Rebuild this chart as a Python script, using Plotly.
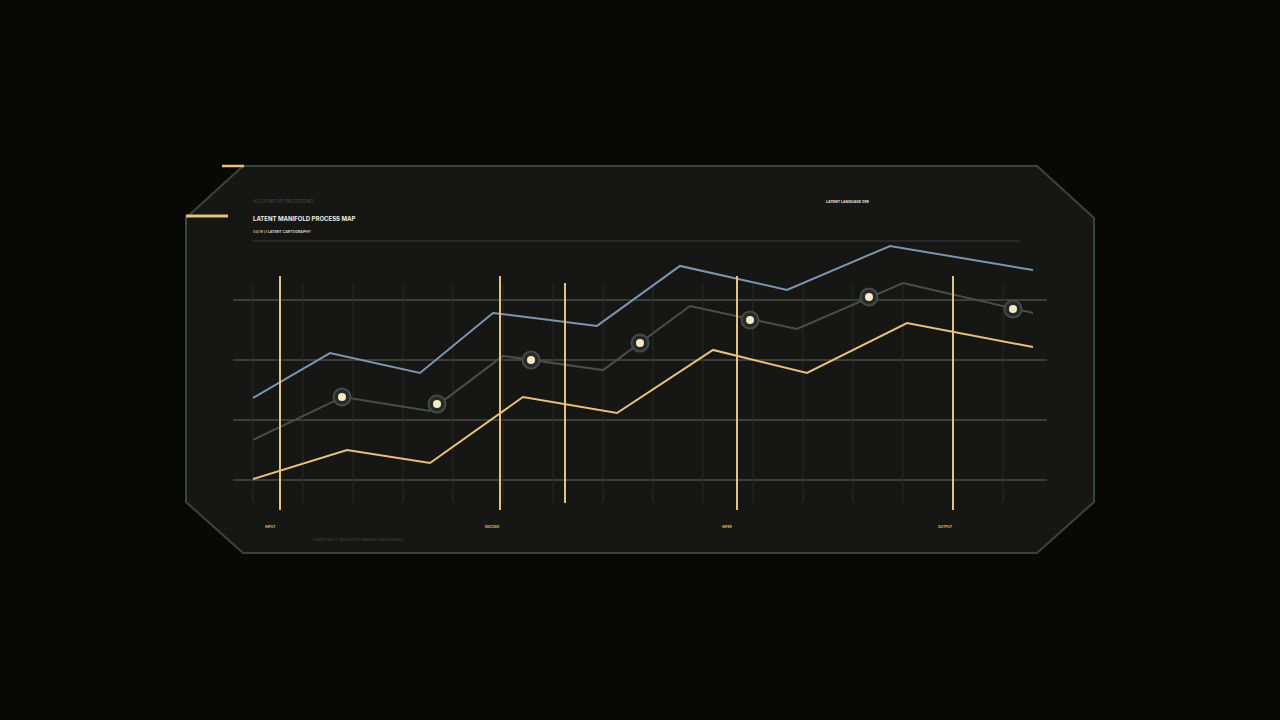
import plotly.graph_objects as go

W, H = 1280, 720

# ---------------- data ----------------
# x in "step" units, y in latent-score units
blue_x = [0, 1.54, 3.34, 4.8, 6.88, 8.54, 10.68, 12.74, 15.6]
blue_y = [34.2, 52.9, 44.6, 69.6, 64.2, 89.2, 79.2, 97.5, 87.5]

gray_x = [0, 1.8, 3.54, 5.0, 7.0, 8.74, 10.88, 13.0, 15.6]
gray_y = [16.7, 34.6, 28.8, 51.7, 45.8, 72.5, 62.9, 82.1, 69.6]

gold_x = [0, 1.88, 3.54, 5.4, 7.28, 9.2, 11.08, 13.08, 15.6]
gold_y = [0.4, 12.5, 7.1, 34.6, 27.9, 54.2, 44.6, 65.4, 55.4]

node_x = [1.78, 3.68, 5.56, 7.74, 9.94, 12.32, 15.2]
node_y = [34.6, 31.7, 50.0, 57.1, 66.7, 76.25, 71.25]

phase_x = [0.54, 4.94, 6.24, 9.68, 14.0]
phase_labels = ["INPUT", "ENCODE", "", "INFER", "OUTPUT"]

grid_y = [0, 25, 50, 75]
grid_x = list(range(0, 16))

# ---------------- helpers ----------------
def px(x):
    return x / W

def py(y):
    return 1 - y / H

BG = "#080906"
PANEL = "#161714"
EDGE = "#39443e"
GOLD = "#e6c27e"
BLUE = "#7d95ad"
GRAYL = "#4a4e4b"
CREAM = "#f8e9c6"

fig = go.Figure()

# vertical thin grid
vx, vy = [], []
for g in grid_x:
    vx += [g, g, None]
    vy += [-9.6, 81.25, None]
fig.add_trace(go.Scatter(x=vx, y=vy, mode="lines",
                         line=dict(color="#282a27", width=1),
                         hoverinfo="skip", showlegend=False))

# series
fig.add_trace(go.Scatter(x=gray_x, y=gray_y, mode="lines",
                         line=dict(color=GRAYL, width=2), showlegend=False))
fig.add_trace(go.Scatter(x=blue_x, y=blue_y, mode="lines",
                         line=dict(color=BLUE, width=2), showlegend=False))
fig.add_trace(go.Scatter(x=gold_x, y=gold_y, mode="lines",
                         line=dict(color=GOLD, width=2), showlegend=False))

# phase lines
for i, xv in enumerate(phase_x):
    if phase_labels[i] == "":
        y0, y1 = -9.6, 82.1
    else:
        y0, y1 = -12.5, 85
    fig.add_trace(go.Scatter(x=[xv, xv], y=[y0, y1], mode="lines",
                             line=dict(color=GOLD, width=2),
                             hoverinfo="skip", showlegend=False))

# nodes
fig.add_trace(go.Scatter(x=node_x, y=node_y, mode="markers",
                         marker=dict(size=17, color="#262b29",
                                     line=dict(color="#444c49", width=2)),
                         showlegend=False))
fig.add_trace(go.Scatter(x=node_x, y=node_y, mode="markers",
                         marker=dict(size=8, color=CREAM), showlegend=False))

# ---------------- panel ----------------
poly = [(243, 166), (1037, 166), (1094, 218), (1094, 502), (1037, 553),
        (243, 553), (186, 502), (186, 218)]
path = "M " + " L ".join(f"{px(a):.5f},{py(b):.5f}" for a, b in poly) + " Z"
shapes = [
    dict(type="path", xref="paper", yref="paper", path=path,
         fillcolor=PANEL, line=dict(color=EDGE, width=2), layer="below"),
    dict(type="line", xref="paper", yref="paper", x0=px(222), x1=px(244),
         y0=py(166), y1=py(166), line=dict(color=GOLD, width=2.5)),
    dict(type="line", xref="paper", yref="paper", x0=px(186), x1=px(228),
         y0=py(216), y1=py(216), line=dict(color=GOLD, width=3)),
    dict(type="line", xref="paper", yref="paper", x0=px(253), x1=px(1020),
         y0=py(241), y1=py(241), line=dict(color="#393c38", width=1)),
]

FONT = "Inter, Roboto, DejaVu Sans, sans-serif"
ann = [
    dict(text="AI COGNITIVE PROCESSING", x=px(251), y=py(201), size=4.5,
         color="#4a4e4a", bold=False),
    dict(text="LATENT MANIFOLD PROCESS MAP", x=px(251), y=py(218), size=6,
         color="#f1ece0", bold=True),
    dict(text="<span style='color:#c9a866'>04/18</span> // LATENT CARTOGRAPHY",
         x=px(251), y=py(232), size=3.6, color="#d9d2c0", bold=True),
    dict(text="LATENT LANGUAGE 299", x=px(824), y=py(202), size=3.6,
         color="#ece4cf", bold=True),
    dict(text="LATENT FIELD // TRAJECTORY SAMPLED ACROSS STAGES", x=px(311),
         y=py(540), size=3.2, color="#4a4e4a", bold=False),
]
annotations = []
for a in ann:
    t = f"<b>{a['text']}</b>" if a["bold"] else a["text"]
    annotations.append(dict(text=t, x=a["x"], y=a["y"], xref="paper",
                            yref="paper", xanchor="left", yanchor="middle",
                            showarrow=False,
                            font=dict(size=a["size"], color=a["color"],
                                      family=FONT)))
for xv, lab in zip(phase_x, phase_labels):
    if lab:
        annotations.append(dict(text=f"<b>{lab}</b>", x=xv - 0.34, y=py(527),
                                xref="x", yref="paper", xanchor="left",
                                yanchor="middle", showarrow=False,
                                font=dict(size=3.4, color="#d8b574",
                                          family=FONT)))

fig.update_layout(
    width=W, height=H,
    margin=dict(l=0, r=0, t=0, b=0),
    paper_bgcolor=BG, plot_bgcolor="rgba(0,0,0,0)",
    shapes=shapes, annotations=annotations,
    xaxis=dict(domain=[px(233), px(1047)], range=[-0.4, 15.88],
               showgrid=False, zeroline=False, showticklabels=False,
               ticks="", fixedrange=True),
    yaxis=dict(domain=[py(515), py(240)], range=[-14.583, 100],
               tickvals=grid_y, showgrid=True, gridcolor="#3b3e3a",
               gridwidth=2, zeroline=False, showticklabels=False, ticks="",
               fixedrange=True),
    hovermode=False,
)

fig.write_html(
    "out.html",
    config={"displayModeBar": False},
    post_script="document.body.style.margin='0';document.body.style.background='#080906';",
)
